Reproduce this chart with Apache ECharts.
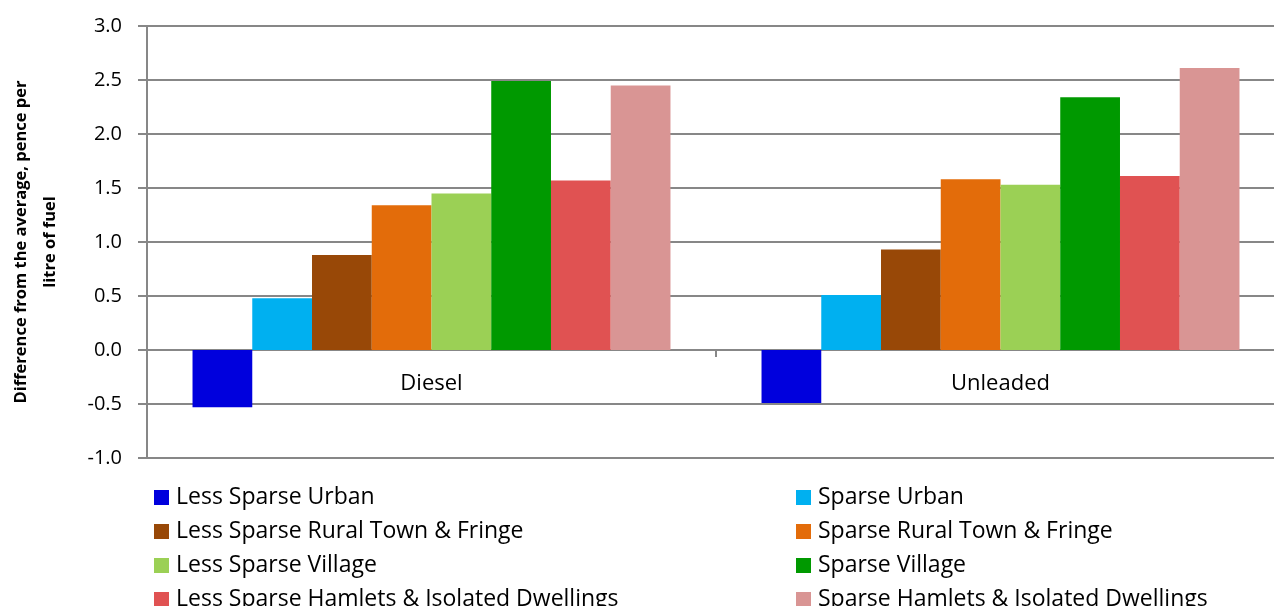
<!DOCTYPE html>
<html>
<head>
<meta charset="utf-8">
<script src="https://cdn.jsdelivr.net/npm/echarts@6/dist/echarts.min.js"></script>
<style>
  html, body { margin: 0; padding: 0; background: #fff; }
  #chart { width: 1274px; height: 606px; }
</style>
</head>
<body>
<div id="chart"></div>
<script>
// categories on the x axis
var fuels = ['Diesel', 'Unleaded'];

// settlement types, in legend/bar order
var areas = [
  'Less Sparse Urban',
  'Sparse Urban',
  'Less Sparse Rural Town & Fringe',
  'Sparse Rural Town & Fringe',
  'Less Sparse Village',
  'Sparse Village',
  'Less Sparse Hamlets & Isolated Dwellings',
  'Sparse Hamlets & Isolated Dwellings'
];

// pence per litre difference from the average
var diesel   = [-0.53, 0.48, 0.88, 1.34, 1.45, 2.49, 1.57, 2.45];
var unleaded = [-0.49, 0.51, 0.93, 1.58, 1.53, 2.34, 1.61, 2.61];

var colors = ['#0000DD', '#00B0F0', '#984807', '#E36C0A', '#9BD055', '#009900', '#E05252', '#D99594'];

var yTicks = ['-1.0', '-0.5', '0.0', '0.5', '1.0', '1.5', '2.0', '2.5', '3.0'];

var font = '"Open Sans", sans-serif';

var series = areas.map(function (name, i) {
  return {
    name: name,
    type: 'bar',
    data: [diesel[i], unleaded[i]],
    itemStyle: { color: colors[i] },
    barGap: 0,
    barCategoryGap: '16%'
  };
});

var legendText = { fontFamily: font, fontSize: 23, color: '#000', lineHeight: 22, padding: [0, 0, 0, 2] };

var chart = echarts.init(document.getElementById('chart'));
chart.setOption({
  animation: false,
  grid: { left: 147, right: -11, top: 26, bottom: 148, outerBoundsMode: 'none', containLabel: false },
  legend: [
    {
      data: [areas[0], areas[2], areas[4], areas[6]],
      orient: 'vertical',
      left: 149, top: 481, height: 200,
      itemWidth: 15, itemHeight: 15, itemGap: 11,
      icon: 'rect',
      textStyle: legendText
    },
    {
      data: [areas[1], areas[3], areas[5], areas[7]],
      orient: 'vertical',
      left: 791, top: 481, height: 200,
      itemWidth: 15, itemHeight: 15, itemGap: 11,
      icon: 'rect',
      textStyle: legendText
    }
  ],
  xAxis: {
    type: 'category',
    data: fuels,
    axisLine: { onZero: true, lineStyle: { color: '#878787', width: 2 } },
    axisTick: { show: true, length: 7, lineStyle: { color: '#878787', width: 2 } },
    axisLabel: { margin: -85, fontFamily: font, fontSize: 22, color: '#000' }
  },
  yAxis: {
    type: 'value',
    min: -1, max: 3, interval: 0.5,
    name: 'Difference from the average, pence per\nlitre of fuel',
    nameLocation: 'middle',
    nameGap: 82,
    nameTextStyle: { fontFamily: font, fontSize: 16.5, fontWeight: 'bold', color: '#000', lineHeight: 29, align: 'center' },
    axisLine: { show: true, lineStyle: { color: '#878787', width: 2 } },
    axisTick: { show: true, length: 9, lineStyle: { color: '#878787', width: 2 } },
    splitLine: { lineStyle: { color: '#878787', width: 2 } },
    axisLabel: {
      margin: 25,
      fontFamily: font, fontSize: 20, color: '#000',
      formatter: function (v) { return yTicks[Math.round((v + 1) * 2)]; }
    }
  },
  series: series
});
</script>
</body>
</html>
